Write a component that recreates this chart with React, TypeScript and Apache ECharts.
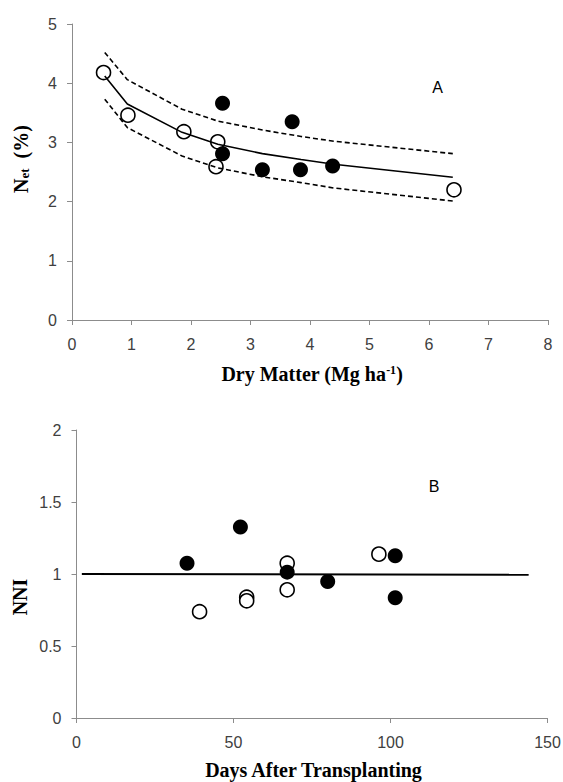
import React, { useEffect, useRef } from "react";
import * as echarts from "echarts";

// Panel A: dry matter (Mg ha-1) vs N concentration (%)
const dmOpen = [0.53, 0.94, 1.88, 2.45, 2.42, 6.42];
const nOpen = [4.18, 3.46, 3.18, 3.01, 2.59, 2.2];
const dmFilled = [2.53, 2.53, 3.2, 3.7, 3.84, 4.38];
const nFilled = [3.66, 2.81, 2.54, 3.35, 2.54, 2.6];
const curveDm = [0.55, 0.93, 1.85, 2.45, 3.2, 3.85, 4.4, 6.4];
const curveN = [4.12, 3.65, 3.17, 2.97, 2.81, 2.71, 2.63, 2.41];
const upperN = [4.52, 4.06, 3.56, 3.36, 3.21, 3.1, 3.02, 2.81];
const lowerN = [3.73, 3.25, 2.77, 2.57, 2.42, 2.32, 2.23, 2.01];

// Panel B: days after transplanting vs NNI
const datOpen = [39.2, 54.2, 54.2, 67.1, 67.1, 96.3];
const nniOpen = [0.738, 0.839, 0.814, 1.075, 0.89, 1.138];
const datFilled = [35.2, 52.2, 67.1, 80.0, 101.5, 101.5];
const nniFilled = [1.075, 1.327, 1.013, 0.948, 1.126, 0.835];
const refDat = [1.7, 144];
const refNni = [1.0, 0.995];

const zip = (xs: number[], ys: number[]) => xs.map((x, i) => [x, ys[i]]);

const AXIS_GRAY = "#8c8c8c";
const LABEL_COLOR = "#404040";
const SANS = "Liberation Sans";
const SERIF = "Liberation Serif";

function valueAxis(gridIndex: number, min: number, max: number, interval: number, isX: boolean) {
  return {
    type: "value",
    gridIndex,
    min,
    max,
    interval,
    axisLine: { show: true, onZero: false, lineStyle: { color: AXIS_GRAY, width: 1 } },
    axisTick: { show: true, inside: false, length: 5, lineStyle: { color: AXIS_GRAY } },
    splitLine: { show: false },
    axisLabel: {
      color: LABEL_COLOR,
      fontFamily: SANS,
      fontSize: 16,
      margin: isX ? 16 : 15,
    },
  };
}

export default function App() {
  const ref = useRef<HTMLDivElement>(null);

  useEffect(() => {
    if (!ref.current) return;
    const chart = echarts.init(ref.current, undefined, { renderer: "svg" });
    const titleRich = {
      t: { fontFamily: SERIF, fontWeight: "bold", fontSize: 20, fill: "#000" },
      sup: { fontFamily: SERIF, fontWeight: "bold", fontSize: 12, verticalAlign: "top", fill: "#000" },
      sub: { fontFamily: SERIF, fontWeight: "bold", fontSize: 13, verticalAlign: "bottom", fill: "#000" },
    };
    const option = {
      animation: false,
      backgroundColor: "#fff",
      grid: [
        { left: 72, top: 24, width: 476, height: 296, containLabel: false, outerBoundsMode: "none" },
        { left: 76.5, top: 430, width: 471, height: 288, containLabel: false, outerBoundsMode: "none" },
      ],
      xAxis: [valueAxis(0, 0, 8, 1, true), valueAxis(1, 0, 150, 50, true)],
      yAxis: [valueAxis(0, 0, 5, 1, false), valueAxis(1, 0, 2, 0.5, false)],
      series: [
        {
          type: "line",
          xAxisIndex: 0,
          yAxisIndex: 0,
          data: zip(curveDm, curveN),
          symbol: "none",
          lineStyle: { color: "#000", width: 1.6 },
          z: 2,
        },
        {
          type: "line",
          xAxisIndex: 0,
          yAxisIndex: 0,
          data: zip(curveDm, upperN),
          symbol: "none",
          lineStyle: { color: "#000", width: 1.6, type: [5, 3] },
          z: 2,
        },
        {
          type: "line",
          xAxisIndex: 0,
          yAxisIndex: 0,
          data: zip(curveDm, lowerN),
          symbol: "none",
          lineStyle: { color: "#000", width: 1.6, type: [5, 3] },
          z: 2,
        },
        {
          type: "scatter",
          xAxisIndex: 0,
          yAxisIndex: 0,
          data: zip(dmOpen, nOpen),
          symbol: "circle",
          symbolSize: 14,
          itemStyle: { color: "rgba(255,255,255,0)", borderColor: "#000", borderWidth: 1.6, opacity: 1 },
          z: 3,
        },
        {
          type: "scatter",
          xAxisIndex: 0,
          yAxisIndex: 0,
          data: zip(dmFilled, nFilled),
          symbol: "circle",
          symbolSize: 15,
          itemStyle: { color: "#000", opacity: 1 },
          z: 4,
        },
        {
          type: "line",
          xAxisIndex: 1,
          yAxisIndex: 1,
          data: zip(refDat, refNni),
          symbol: "none",
          lineStyle: { color: "#000", width: 2 },
          z: 2,
        },
        {
          type: "scatter",
          xAxisIndex: 1,
          yAxisIndex: 1,
          data: zip(datOpen, nniOpen),
          symbol: "circle",
          symbolSize: 14,
          itemStyle: { color: "#fff", borderColor: "#000", borderWidth: 1.6, opacity: 1 },
          z: 3,
        },
        {
          type: "scatter",
          xAxisIndex: 1,
          yAxisIndex: 1,
          data: zip(datFilled, nniFilled),
          symbol: "circle",
          symbolSize: 15,
          itemStyle: { color: "#000", opacity: 1 },
          z: 4,
        },
      ],
      graphic: [
        {
          type: "text",
          x: 437.6,
          y: 87,
          style: { text: "A", fontFamily: SANS, fontSize: 16, fill: "#000", align: "center", verticalAlign: "middle" },
        },
        {
          type: "text",
          x: 434,
          y: 486,
          style: { text: "B", fontFamily: SANS, fontSize: 16, fill: "#000", align: "center", verticalAlign: "middle" },
        },
        {
          type: "text",
          x: 312,
          y: 374,
          style: {
            text: "{t|Dry Matter (Mg ha}{sup|-1}{t|)}",
            rich: titleRich,
            align: "center",
            verticalAlign: "middle",
          },
        },
        {
          type: "text",
          x: 313.5,
          y: 770,
          style: {
            text: "{t|Days After Transplanting}",
            rich: titleRich,
            align: "center",
            verticalAlign: "middle",
          },
        },
        {
          type: "text",
          x: 21,
          y: 159,
          rotation: Math.PI / 2,
          style: {
            text: "{t|N}{sub|et}{t|  (%)}",
            rich: titleRich,
            align: "center",
            verticalAlign: "middle",
          },
        },
        {
          type: "text",
          x: 20,
          y: 597,
          rotation: Math.PI / 2,
          style: {
            text: "{t|NNI}",
            rich: titleRich,
            align: "center",
            verticalAlign: "middle",
          },
        },
      ],
    };
    chart.setOption(option as any);
    return () => chart.dispose();
  }, []);

  return (
    <div
      ref={ref}
      style={{ position: "absolute", left: 0, top: 0, width: 563, height: 782, background: "#fff" }}
    />
  );
}
